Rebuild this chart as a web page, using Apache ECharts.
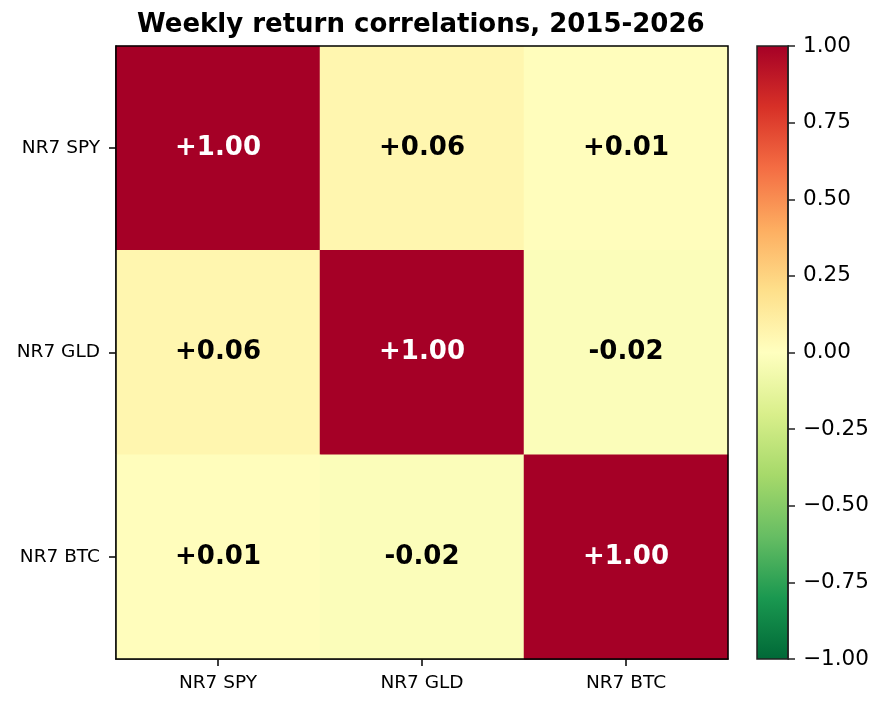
<!DOCTYPE html>
<html>
<head>
<meta charset="utf-8">
<script src="https://cdn.jsdelivr.net/npm/echarts@6/dist/echarts.min.js"></script>
<style>
  html, body { margin: 0; padding: 0; background: #fff; }
  #chart { width: 884px; height: 707px; }
</style>
</head>
<body>
<div id="chart"></div>
<script>
  // labels and correlation matrix (row = y label, col = x label)
  var names = ['NR7 SPY', 'NR7 GLD', 'NR7 BTC'];
  var rowSPY = [1.00, 0.06, 0.01];
  var rowGLD = [0.06, 1.00, -0.02];
  var rowBTC = [0.01, -0.02, 1.00];

  // RdYlGn reversed: -1 green -> +1 red
  var cmap = ['#006837', '#1a9850', '#66bd63', '#a6d96a', '#d9ef8b', '#ffffbf',
              '#fee08b', '#fdae61', '#f46d43', '#d73027', '#a50026'];

  var rows = [rowSPY, rowGLD, rowBTC];
  var cells = [];
  rows.forEach(function (r, i) {
    r.forEach(function (v, j) {
      cells.push([j, i, v]);
    });
  });

  var font = 'DejaVu Sans';
  var myChart = echarts.init(document.getElementById('chart'));

  // colorbar gradient stops (top = +1)
  var stops = cmap.slice().reverse().map(function (c, k) {
    return { offset: k / (cmap.length - 1), color: c };
  });

  var options = {
    animation: false,
    backgroundColor: '#fff',
    textStyle: { fontFamily: font },
    title: {
      text: 'Weekly return correlations, 2015-2026',
      left: 137, top: 12, padding: 0,
      textStyle: { fontFamily: font, fontSize: 26, fontWeight: 'bold', color: '#000' }
    },
    grid: [
      { left: 116, top: 46, width: 612, height: 613, show: false },
      { left: 757, top: 46, width: 31, height: 613, show: false }
    ],
    xAxis: [{
      gridIndex: 0,
      type: 'category',
      data: names,
      position: 'bottom',
      axisLine: { show: true, lineStyle: { color: '#000', width: 1.5 } },
      axisTick: { show: true, alignWithLabel: true, length: 7, lineStyle: { color: '#000', width: 1.5 } },
      axisLabel: { color: '#000', fontSize: 18.5, fontFamily: font, margin: 15 },
      splitLine: { show: false }
    }, {
      gridIndex: 1, type: 'value', show: false, min: 0, max: 1
    }],
    yAxis: [{
      gridIndex: 0,
      type: 'category',
      data: names,
      inverse: true,
      axisLine: { show: true, lineStyle: { color: '#000', width: 1.5 } },
      axisTick: { show: true, alignWithLabel: true, length: 7, lineStyle: { color: '#000', width: 1.5 } },
      axisLabel: { color: '#000', fontSize: 18.5, fontFamily: font, margin: 16 },
      splitLine: { show: false }
    }, {
      gridIndex: 1,
      type: 'value',
      min: -1, max: 1, interval: 0.25,
      position: 'right',
      axisLine: { show: true, onZero: false, lineStyle: { color: '#222', width: 1.5 } },
      axisTick: { show: true, inside: false, length: 7, lineStyle: { color: '#222', width: 1.5 } },
      axisLabel: {
        color: '#000', fontSize: 21.5, fontFamily: font, margin: 15,
        formatter: function (v) {
          var s = Math.abs(v).toFixed(2);
          return v < 0 ? '\u2212' + s : s;
        }
      },
      splitLine: { show: false }
    }],
    visualMap: {
      show: false,
      min: -1, max: 1,
      dimension: 2,
      seriesIndex: 0,
      inRange: { color: cmap }
    },
    graphic: [
      {
        type: 'rect',
        shape: { x: 757, y: 46, width: 31, height: 613 },
        style: {
          fill: { type: 'linear', x: 0, y: 0, x2: 0, y2: 1, colorStops: stops },
          stroke: '#222', lineWidth: 1.5
        },
        z: -1
      },
      {
        type: 'rect',
        shape: { x: 116, y: 46, width: 612, height: 613 },
        style: { fill: 'none', stroke: '#000', lineWidth: 1.5 },
        z: 100
      }
    ],
    series: [{
      type: 'heatmap',
      xAxisIndex: 0,
      yAxisIndex: 0,
      label: {
        show: true,
        fontFamily: font,
        fontSize: 26,
        fontWeight: 'bold',
        formatter: function (p) {
          var v = p.value[2];
          return (v >= 0 ? '+' : '-') + Math.abs(v).toFixed(2);
        }
      },
      itemStyle: { borderWidth: 0 },
      emphasis: { disabled: true },
      // white text on strong cells, black elsewhere
      data: cells.map(function (c) {
        return {
          value: c,
          label: { color: Math.abs(c[2]) > 0.5 ? '#fff' : '#000' }
        };
      })
    }]
  };

  myChart.setOption(options);
</script>
</body>
</html>
